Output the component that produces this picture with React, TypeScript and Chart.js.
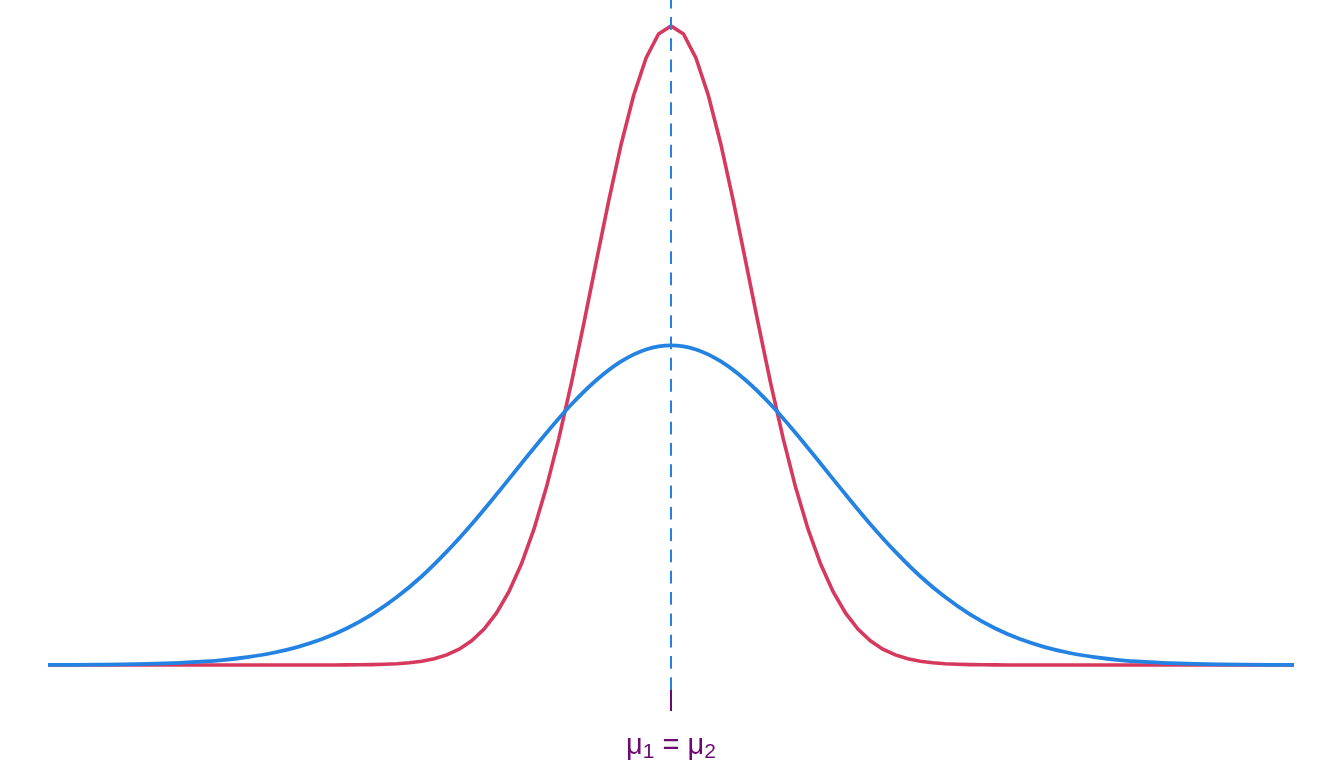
import React, { useEffect, useRef } from "react";
import { Chart, registerables } from "chart.js";

Chart.register(...registerables);

// Narrow curve (red): x positions and density values
const redX = [
  -8, -4.48, -4.32, -4.16, -4.0, -3.84, -3.68, -3.52, -3.36, -3.2, -3.04, -2.88, -2.72, -2.56, -2.4,
  -2.24, -2.08, -1.92, -1.76, -1.6, -1.44, -1.28, -1.12, -0.96, -0.8, -0.64, -0.48, -0.32, -0.16,
  0, 0.16, 0.32, 0.48, 0.64, 0.8, 0.96, 1.12, 1.28, 1.44, 1.6, 1.76, 1.92, 2.08, 2.24, 2.4, 2.56,
  2.72, 2.88, 3.04, 3.2, 3.36, 3.52, 3.68, 3.84, 4.0, 4.16, 4.32, 4.48, 8,
];
const redY = [
  0, 0.00002, 0.00004, 0.00007, 0.00013, 0.00025, 0.00046, 0.0008, 0.0014, 0.0024, 0.0039, 0.0063,
  0.0099, 0.0151, 0.0224, 0.0325, 0.0459, 0.0632, 0.0848, 0.1109, 0.1415, 0.1758, 0.2131, 0.2516,
  0.2897, 0.3251, 0.3555, 0.379, 0.3939, 0.3989, 0.3939, 0.379, 0.3555, 0.3251, 0.2897, 0.2516,
  0.2131, 0.1758, 0.1415, 0.1109, 0.0848, 0.0632, 0.0459, 0.0325, 0.0224, 0.0151, 0.0099, 0.0063,
  0.0039, 0.0024, 0.0014, 0.0008, 0.00046, 0.00025, 0.00013, 0.00007, 0.00004, 0.00002, 0,
];

// Wide curve (blue)
const blueX = [
  -8.0, -7.68, -7.36, -7.04, -6.72, -6.4, -6.08, -5.76, -5.44, -5.12, -4.8, -4.48, -4.16, -3.84,
  -3.52, -3.2, -2.88, -2.56, -2.24, -1.92, -1.6, -1.28, -0.96, -0.64, -0.32, 0, 0.32, 0.64, 0.96,
  1.28, 1.6, 1.92, 2.24, 2.56, 2.88, 3.2, 3.52, 3.84, 4.16, 4.48, 4.8, 5.12, 5.44, 5.76, 6.08, 6.4,
  6.72, 7.04, 7.36, 7.68, 8.0,
];
const blueY = [
  0.00007, 0.00011, 0.00023, 0.0004, 0.0007, 0.0012, 0.00195, 0.0031, 0.00495, 0.0075, 0.0112,
  0.0162, 0.02295, 0.0316, 0.0424, 0.0554, 0.07075, 0.0879, 0.10655, 0.1258, 0.14485, 0.1626,
  0.17775, 0.1895, 0.19695, 0.1995, 0.19695, 0.1895, 0.17775, 0.1626, 0.14485, 0.1258, 0.10655,
  0.0879, 0.07075, 0.0554, 0.0424, 0.0316, 0.02295, 0.0162, 0.0112, 0.0075, 0.00495, 0.0031,
  0.00195, 0.0012, 0.0007, 0.0004, 0.00023, 0.00011, 0.00007,
];

const meanX = [0];
const meanLabelParts = ["μ", "1", " = ", "μ", "2"];

const RED = "#D6395D";
const BLUE = "#2483E2";
const PURPLE = "#6C0A72";

const X_MIN = -8;
const X_MAX = 8;
const Y_MIN = -0.0156;
const Y_MAX = 0.4151;

const meanPlugin = {
  id: "meanMarker",
  afterDraw(chart: any) {
    const ctx = chart.ctx;
    const xs = chart.scales.x;
    const area = chart.chartArea;
    const px = xs.getPixelForValue(meanX[0]);
    ctx.save();
    // tick
    ctx.strokeStyle = PURPLE;
    ctx.lineWidth = 2;
    ctx.beginPath();
    ctx.moveTo(px, area.bottom);
    ctx.lineTo(px, area.bottom + 21);
    ctx.stroke();
    // label with subscripts
    const big = "29px 'Liberation Sans', Arial, sans-serif";
    const small = "21px 'Liberation Sans', Arial, sans-serif";
    const fonts = [big, small, big, big, small];
    const dy = [0, 4, 0, 0, 4];
    let total = 0;
    const widths: number[] = [];
    meanLabelParts.forEach((t, i) => {
      ctx.font = fonts[i];
      const w = ctx.measureText(t).width;
      widths.push(w);
      total += w;
    });
    let x = px - total / 2;
    const baseY = area.bottom + 64;
    ctx.fillStyle = PURPLE;
    ctx.textBaseline = "alphabetic";
    ctx.textAlign = "left";
    meanLabelParts.forEach((t, i) => {
      ctx.font = fonts[i];
      ctx.fillText(t, x, baseY + dy[i]);
      x += widths[i];
    });
    ctx.restore();
  },
};

export default function App() {
  const ref = useRef<HTMLCanvasElement | null>(null);
  useEffect(() => {
    if (!ref.current) return;
    const chart = new Chart(ref.current, {
      type: "line",
      data: {
        datasets: [
          {
            data: redX.map((x, i) => ({ x, y: redY[i] })),
            borderColor: RED,
            borderWidth: 3.6,
            pointRadius: 0,
            tension: 0,
            clip: false as any,
            order: 3,
          },
          {
            data: blueX.map((x, i) => ({ x, y: blueY[i] })),
            borderColor: BLUE,
            borderWidth: 3.8,
            pointRadius: 0,
            cubicInterpolationMode: "monotone",
            clip: false as any,
            order: 2,
          },
          {
            data: [
              { x: meanX[0], y: Y_MIN },
              { x: meanX[0], y: Y_MAX },
            ],
            borderColor: BLUE,
            borderWidth: 2,
            borderDash: [12.7, 8.6],
            pointRadius: 0,
            tension: 0,
            order: 1,
          },
        ],
      },
      options: {
        responsive: false,
        animation: false,
        events: [],
        layout: { padding: { left: 48, right: 50, top: 0, bottom: 78 } },
        plugins: { legend: { display: false }, tooltip: { enabled: false } },
        scales: {
          x: { type: "linear", min: X_MIN, max: X_MAX, display: false },
          y: { type: "linear", min: Y_MIN, max: Y_MAX, display: false },
        },
      },
      plugins: [meanPlugin],
    });
    return () => chart.destroy();
  }, []);
  return (
    <div style={{ position: "absolute", left: 0, top: 0, width: 1344, height: 768, background: "#fff" }}>
      <canvas ref={ref} width={1344} height={768} style={{ display: "block" }} />
    </div>
  );
}
